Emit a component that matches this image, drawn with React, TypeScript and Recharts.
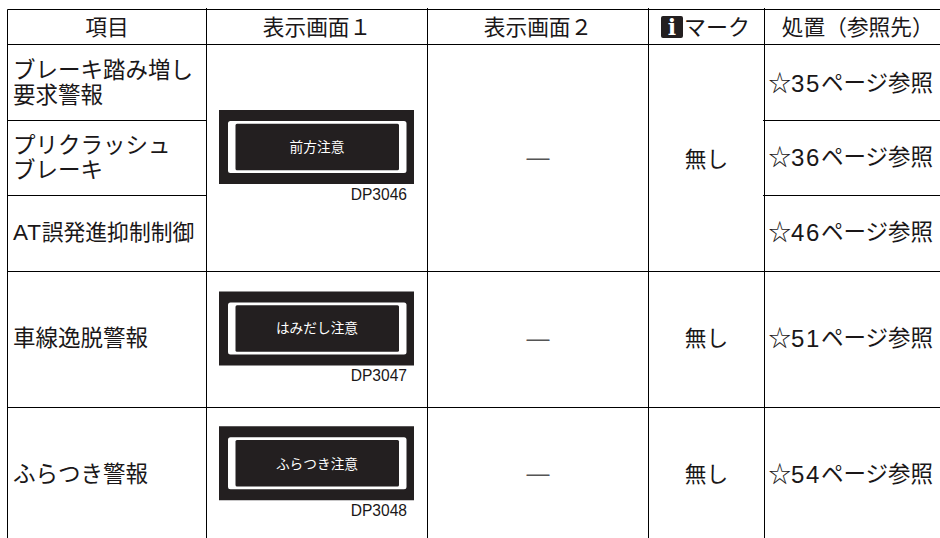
import React from "react";
import { ScatterChart, Scatter, XAxis, YAxis, ReferenceLine, ReferenceArea } from "recharts";

const columnEdges = [7.5, 206.5, 427.5, 648.5, 764.5, 940];
const rowEdges = [9.5, 44.5, 120.5, 195.5, 271.5, 407.5, 541];
const headers = ["項目", "表示画面１", "表示画面２", "", "処置（参照先）"];
const markHeader = "マーク";
const markIcon = "i";
const items = [
  ["ブレーキ踏み増し", "要求警報"],
  ["プリクラッシュ", "ブレーキ"],
  [],
  ["車線逸脱警報"],
  ["ふらつき警報"],
];
const atItem = "AT誤発進抑制制御";
const actions = ["☆35ページ参照", "☆36ページ参照", "☆46ページ参照", "☆51ページ参照", "☆54ページ参照"];
const screenGroups = [[0, 2], [3, 3], [4, 4]];
const screenTexts = ["前方注意", "はみだし注意", "ふらつき注意"];
const screenCodes = ["DP3046", "DP3047", "DP3048"];
const noValue = "—";
const noMark = "無し";
const partialRows = [2, 3];
const fullRows = [0, 1, 4, 5];

const INK = "#231f20";
const LINE = "#000000";
const FONT = '"Liberation Sans", "Noto Sans CJK JP", sans-serif';

const mid = (a: number, b: number) => (a + b) / 2;
const colMid = (c: number) => mid(columnEdges[c], columnEdges[c + 1]);
const rowNudge = [0, -1, -1.5, -1.5, 0];
const rowMid = (r: number) => mid(rowEdges[r + 1], rowEdges[r + 2]) + rowNudge[r];
const groupMid = (g: number[]) => mid(rowEdges[g[0] + 1], rowEdges[g[1] + 2]);

type Pt = { x: number; y: number; t: string };

const headY = mid(rowEdges[0], rowEdges[1]) - 0.5;
const itemPoints: Pt[] = items.flatMap((lines, r) =>
  lines.map((t, i) => ({ x: columnEdges[0] + 5.5, y: rowMid(r) + (i - (lines.length - 1) / 2) * 25, t }))
);
const atPoints: Pt[] = [{ x: columnEdges[0] + 5.5, y: rowMid(2), t: atItem }];
const actionPoints: Pt[] = actions.map((t, r) => ({ x: columnEdges[4] + 4, y: rowMid(r), t }));
const headerPoints: Pt[] = headers
  .map((t, c) => ({ x: colMid(c) + (c === 4 ? 5.5 : 0), y: headY, t }))
  .filter((p) => p.t);
const markHeaderPoints: Pt[] = [{ x: columnEdges[3] + 35.5, y: headY, t: markHeader }];
const iconTextPoints: Pt[] = [{ x: columnEdges[3] + 23.5, y: headY, t: markIcon }];
const dashPoints: Pt[] = screenGroups.map((g, i) => ({ x: colMid(2), y: groupMid(g) - [1.5, 2, 1][i], t: noValue }));
const markPoints: Pt[] = screenGroups.map((g, i) => ({ x: colMid(3), y: groupMid(g) + [1, -1.5, 0][i], t: noMark }));
const boxPoints: Pt[] = screenGroups.map((g, i) => ({ x: colMid(1), y: groupMid(g) - 11, t: screenTexts[i] }));
const screenPoints: Pt[] = boxPoints.map((p, i) => ({ ...p, y: p.y + [0, -1, 0.5][i] }));
const codePoints: Pt[] = screenGroups.map((g, i) => ({ x: columnEdges[1] + 200.5, y: groupMid(g) + 35.5, t: screenCodes[i] }));

const label = (size: number, anchor: string, fill = "#1a1718", family = FONT, weight = 400, latinGap = 0, latinSize = size) =>
  (props: any) => {
    const { cx, cy, payload } = props;
    const parts = String(payload.t).split(/([A-Za-z0-9]+)/).filter(Boolean);
    return (
      <text x={cx} y={cy} fontSize={size} fontFamily={family} fontWeight={weight} fill={fill} textAnchor={anchor} dominantBaseline="central">
        {parts.map((s: string, i: number) => {
          const latin = /^[A-Za-z0-9]+$/.test(s);
          return (
            <tspan key={i} letterSpacing={latin ? latinGap : 0} fontSize={latin ? latinSize : size}>{s}</tspan>
          );
        })}
      </text>
    );
  };

const series: [Pt[], any][] = [
  [headerPoints, label(21.7, "middle")],
  [markHeaderPoints, label(22, "start")],
  [iconTextPoints, label(22, "middle", "#ffffff", '"DejaVu Serif", serif', 700)],
  [itemPoints, label(22.5, "start", "#1a1718", FONT, 400)],
  [atPoints, label(21.8, "start", "#1a1718", FONT, 400, 0.8, 22.5)],
  [actionPoints, label(22.5, "start", "#1a1718", FONT, 400, 1.6, 24)],
  [dashPoints, label(23, "middle", "#555555")],
  [markPoints, label(21.7, "middle")],
  [screenPoints, label(13.7, "middle", "#ffffff")],
  [codePoints, label(15.6, "end", "#1a1718", '"Liberation Sans", sans-serif')],
];

const seg = (x1: number, y1: number, x2: number, y2: number) => [{ x: x1, y: y1 }, { x: x2, y: y2 }] as any;

export default function App() {
  return (
    <div style={{ position: "absolute", left: 0, top: 0 }}>
      <ScatterChart width={940} height={538} margin={{ top: 0, right: 0, bottom: 0, left: 0 }}>
        <XAxis type="number" dataKey="x" domain={[0, 940]} hide />
        <YAxis type="number" dataKey="y" domain={[0, 538]} reversed hide />
        {fullRows.map((r) => (
          <ReferenceLine key={"h" + r} ifOverflow="visible" stroke={LINE} strokeWidth={1}
            segment={seg(columnEdges[0], rowEdges[r], 940, rowEdges[r])} />
        ))}
        {partialRows.map((r) => (
          <ReferenceLine key={"a" + r} ifOverflow="visible" stroke={LINE} strokeWidth={1}
            segment={seg(columnEdges[0], rowEdges[r], columnEdges[1], rowEdges[r])} />
        ))}
        {partialRows.map((r) => (
          <ReferenceLine key={"b" + r} ifOverflow="visible" stroke={LINE} strokeWidth={1}
            segment={seg(columnEdges[4] - 1.5, rowEdges[r], 940, rowEdges[r])} />
        ))}
        {columnEdges.slice(0, 5).map((c, i) => (
          <ReferenceLine key={"v" + i} ifOverflow="visible" stroke={LINE} strokeWidth={1}
            segment={seg(c, i === 0 ? rowEdges[0] : rowEdges[0] - 1.5, c, 538)} />
        ))}
        <ReferenceArea ifOverflow="visible" x1={columnEdges[3] + 12.5} x2={columnEdges[3] + 34.5} y1={rowEdges[0] + 6.5} y2={rowEdges[0] + 28.5} fill={INK} fillOpacity={1} stroke="none" radius={2} />
        {boxPoints.map((p, i) => (
          <React.Fragment key={i}>
            <ReferenceArea ifOverflow="visible" x1={p.x - 98} x2={p.x + 97} y1={p.y - 37} y2={p.y + 37} fill={INK} fillOpacity={1} stroke="none" />
            <ReferenceArea ifOverflow="visible" x1={p.x - 89} x2={p.x + 89.5} y1={p.y - 26} y2={p.y + 26} fill="#ffffff" fillOpacity={1} stroke="none" radius={2.5} />
            <ReferenceArea ifOverflow="visible" x1={p.x - 81.5} x2={p.x + 82} y1={p.y - 23.3} y2={p.y + 23.3} fill={INK} fillOpacity={1} stroke="none" radius={1.5} />
          </React.Fragment>
        ))}
        {series.map(([pts, shape], i) => (
          <Scatter key={i} data={pts} shape={shape} isAnimationActive={false} />
        ))}
      </ScatterChart>
    </div>
  );
}
